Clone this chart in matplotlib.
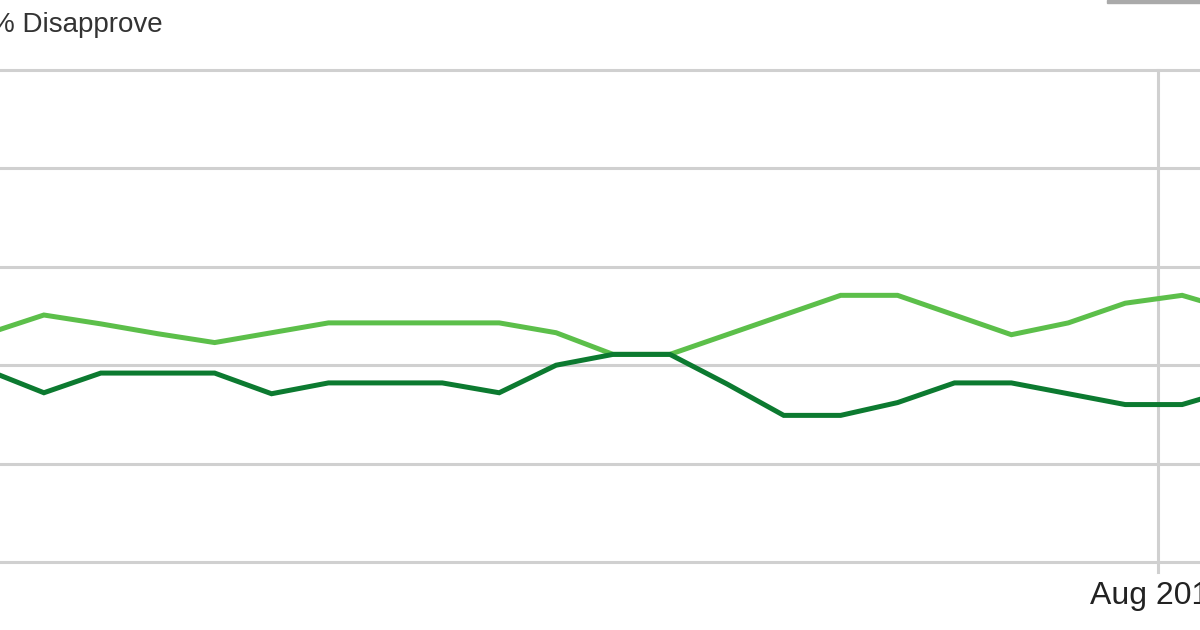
import matplotlib
matplotlib.use('Agg')
import matplotlib.pyplot as plt
import matplotlib.dates as mdates
import numpy as np
import pandas as pd
from matplotlib.patches import Rectangle

plt.rcParams['font.family'] = ['Liberation Sans', 'DejaVu Sans']

# weekly poll dates (first and last points run past the visible crop)
dates = ['2011-03-10', '2011-03-17', '2011-03-24', '2011-03-31', '2011-04-07',
         '2011-04-14', '2011-04-21', '2011-04-28', '2011-05-05', '2011-05-12',
         '2011-05-19', '2011-05-26', '2011-06-02', '2011-06-09', '2011-06-16',
         '2011-06-23', '2011-06-30', '2011-07-07', '2011-07-14', '2011-07-21',
         '2011-07-28', '2011-08-04', '2011-08-11']
disapprove = [53.2, 55.1, 54.2, 53.2, 52.3, 53.3, 54.3, 54.3, 54.3, 54.3, 53.3, 51.1,
              51.1, 53.1, 55.1, 57.1, 57.1, 55.1, 53.1, 54.3, 56.3, 57.1, 55.4]
approve = [49.5, 47.2, 49.2, 49.2, 49.2, 47.1, 48.2, 48.2, 48.2, 47.2, 50.0, 51.1,
           51.1, 48.1, 44.9, 44.9, 46.2, 48.2, 48.2, 47.1, 46.0, 46.0, 47.7]
y_ticks = [30, 40, 50, 60, 70, 80]
x_tick = '2011-08-01'
x_tick_label = 'Aug 2011'
legend_label = '% Disapprove'

d = pd.to_datetime(dates)

fig = plt.figure(figsize=(12, 6.3), dpi=100)
ax = fig.add_axes([0, 1 - 562 / 630, 1, (562 - 70) / 630])

for v in y_ticks:
    ax.axhline(v, color='#d0d0d0', lw=2.2, clip_on=False, zorder=1)

xt = pd.Timestamp(x_tick)
ax.axvline(xt, ymin=-0.02, ymax=1, color='#d0d0d0', lw=2.2, clip_on=False, zorder=1)

ax.plot(d, disapprove, color='#5cbf4a', lw=3.6, solid_joinstyle='miter', zorder=3)
ax.plot(d, approve, color='#0c7a30', lw=3.6, solid_joinstyle='miter', zorder=4)

k0 = d[1]
ax.set_xlim(k0 - pd.Timedelta(days=5.4), k0 + pd.Timedelta(days=142.2))
ax.set_ylim(30, 80)
ax.set_yticks([])
ax.set_xticks([xt])
ax.set_xticklabels([x_tick_label], fontsize=23, color='#222222')
ax.tick_params(axis='x', length=0, pad=14)
for s in ax.spines.values():
    s.set_visible(False)

fig.text(163 / 1200, 1 - 32 / 630, legend_label, ha='right', va='baseline',
         fontsize=20, color='#333333')
fig.patches.append(Rectangle((1107 / 1200, 1 - 3 / 630), 93 / 1200, 3 / 630,
                             transform=fig.transFigure, color='#aaaaaa'))

plt.savefig('out.png', dpi=100)
